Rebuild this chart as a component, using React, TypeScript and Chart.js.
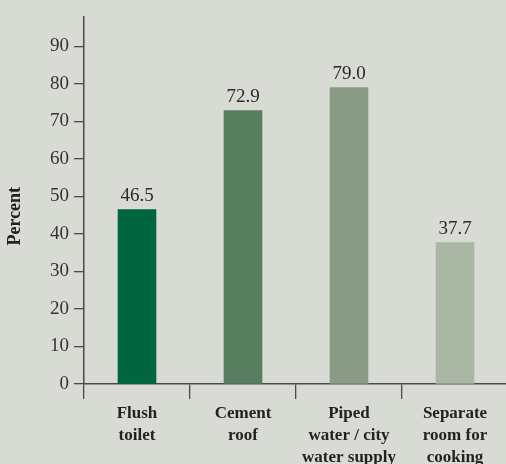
import React, { useEffect, useRef } from "react";
import { Chart, registerables } from "chart.js";

Chart.register(...registerables);

const categories: string[][] = [
  ["Flush", "toilet"],
  ["Cement", "roof"],
  ["Piped", "water / city", "water supply"],
  ["Separate", "room for", "cooking"],
];
const values: number[] = [46.5, 72.9, 79.0, 37.7];
const barColors: string[] = ["#006640", "#587e60", "#899a85", "#aab6a4"];
const yTitle = "Percent";
const yMax = 98;
const yStep = 10;

const BG = "#d8dbd4";
const AXIS = "#4a4a4a";
const SERIF = "'Liberation Serif', 'DejaVu Serif', serif";

const valueLabels = {
  id: "valueLabels",
  afterDatasetsDraw(chart: any) {
    const ctx = chart.ctx;
    const meta = chart.getDatasetMeta(0);
    ctx.save();
    ctx.font = `19px ${SERIF}`;
    ctx.fillStyle = "#2a2a2a";
    ctx.textAlign = "center";
    ctx.textBaseline = "alphabetic";
    meta.data.forEach((bar: any, i: number) => {
      ctx.fillText(values[i].toFixed(1), bar.x, bar.y - 9);
    });
    ctx.restore();
  },
};

const yTitlePlugin = {
  id: "yTitle",
  afterDraw(chart: any) {
    const ctx = chart.ctx;
    const area = chart.chartArea;
    const cy = (area.top + area.bottom) / 2 + 16;
    ctx.save();
    ctx.translate(15, cy);
    ctx.rotate(-Math.PI / 2);
    ctx.font = `bold 18px ${SERIF}`;
    ctx.fillStyle = "#222";
    ctx.textAlign = "center";
    ctx.textBaseline = "middle";
    ctx.fillText(yTitle, 0, 0);
    ctx.restore();
  },
};

const bgPlugin = {
  id: "bgFill",
  beforeDraw(chart: any) {
    const ctx = chart.ctx;
    ctx.save();
    ctx.fillStyle = BG;
    ctx.fillRect(0, 0, chart.width, chart.height);
    ctx.restore();
  },
};

export default function App() {
  const ref = useRef<HTMLCanvasElement>(null);
  useEffect(() => {
    if (!ref.current) return;
    const chart = new Chart(ref.current, {
      type: "bar",
      data: {
        labels: categories,
        datasets: [
          {
            data: values,
            backgroundColor: barColors,
            barThickness: 38,
          },
        ],
      },
      options: {
        animation: false,
        responsive: false,
        devicePixelRatio: 1,
        layout: { padding: { top: 13, right: 0, left: 0, bottom: 0 } },
        plugins: {
          legend: { display: false },
          tooltip: { enabled: false },
        },
        scales: {
          x: {
            grid: {
              display: true,
              offset: true,
              drawOnChartArea: false,
              drawTicks: true,
              tickLength: 15,
              color: AXIS,
              lineWidth: 1.3,
            },
            border: { display: true, color: AXIS, width: 1.5 },
            ticks: {
              color: "#222",
              font: { family: SERIF, size: 17, weight: "bold", lineHeight: "22px" },
              padding: 4,
              maxRotation: 0,
              autoSkip: false,
            },
            afterFit: (scale: any) => {
              scale.height = 80;
            },
          },
          y: {
            min: 0,
            max: yMax,
            ticks: {
              stepSize: yStep,
              includeBounds: false,
              color: "#333",
              font: { family: SERIF, size: 19 },
              padding: 5,
            },
            grid: {
              display: true,
              drawOnChartArea: false,
              drawTicks: true,
              tickLength: 10,
              color: AXIS,
              lineWidth: 1.3,
            },
            border: { display: true, color: AXIS, width: 1.5 },
            title: { display: false },
            afterFit: (scale: any) => {
              scale.width = 84;
            },
          },
        },
      },
      plugins: [bgPlugin, valueLabels, yTitlePlugin],
    });
    return () => chart.destroy();
  }, []);

  return (
    <div
      style={{
        position: "fixed",
        left: 0,
        top: 0,
        width: 506,
        height: 464,
        overflow: "hidden",
        background: BG,
      }}
    >
      <canvas ref={ref} width={508} height={464} style={{ display: "block" }} />
    </div>
  );
}
